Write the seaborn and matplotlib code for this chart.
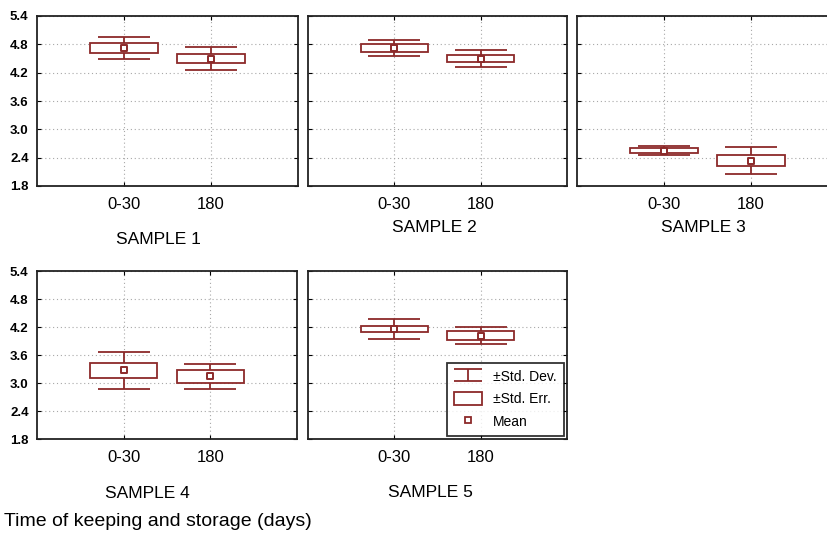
import pandas as pd
import matplotlib.pyplot as plt
import seaborn as sns
from matplotlib.lines import Line2D
from matplotlib.patches import Patch
from matplotlib.path import Path

samples = ["SAMPLE 1", "SAMPLE 2", "SAMPLE 3", "SAMPLE 4", "SAMPLE 5"]
days = ["0-30", "180"]
mean_0_30 = [4.72, 4.72, 2.55, 3.27, 4.16]
mean_180 = [4.50, 4.50, 2.34, 3.14, 4.01]
se_0_30 = [0.11, 0.09, 0.045, 0.165, 0.07]
se_180 = [0.105, 0.07, 0.12, 0.13, 0.095]
sd_0_30 = [0.24, 0.17, 0.095, 0.40, 0.21]
sd_180 = [0.235, 0.18, 0.285, 0.27, 0.18]
y_ticks = [1.8, 2.4, 3.0, 3.6, 4.2, 4.8, 5.4]

RED = "#8c2a2a"

rows = []
for i, s in enumerate(samples):
    rows.append({"sample": s, "days": days[0], "mean": mean_0_30[i], "se": se_0_30[i], "sd": sd_0_30[i]})
    rows.append({"sample": s, "days": days[1], "mean": mean_180[i], "se": se_180[i], "sd": sd_180[i]})
df = pd.DataFrame(rows)


def draw_panel(data, **kws):
    ax = plt.gca()
    pos = data["days"].map({d: i for i, d in enumerate(days)})
    # SD whiskers, SE box, mean square
    ax.errorbar(pos, data["mean"], yerr=data["sd"], fmt="none", ecolor=RED,
                elinewidth=1.3, capsize=18.7, capthick=1.3, zorder=2)
    ax.bar(pos, 2 * data["se"], bottom=data["mean"] - data["se"], width=0.78,
           facecolor="white", edgecolor=RED, linewidth=1.3, zorder=3)
    sns.scatterplot(x=pos, y=data["mean"], marker="s", s=20, facecolor="white",
                    edgecolor=RED, linewidth=1.4, zorder=4, ax=ax)


sns.set_theme(style="ticks")
plt.rcParams["font.family"] = ["Liberation Sans", "DejaVu Sans"]
plt.rcParams.update({"text.color": "black", "axes.labelcolor": "black",
                     "xtick.labelcolor": "black", "ytick.labelcolor": "black"})

g = sns.FacetGrid(df, col="sample", col_wrap=3, sharex=False, sharey=False, height=2.5)
g.map_dataframe(draw_panel)
fig = g.fig
fig.set_size_inches(8.27, 5.35)

W, H = 827, 535
boxes = [(37, 16, 261, 170), (308, 16, 259, 170), (577, 16, 261, 170),
         (37, 271, 260, 168), (308, 271, 259, 168)]
label_pads = [14, 6, 6, 15, 14]
label_shift = [-9, -3, -4, -20, -7]   # px, sample label left of centre

for k, ax in enumerate(g.axes.flat):
    x0, y0, w, h = boxes[k]
    ax.set_position([x0 / W, (H - y0 - h) / H, w / W, h / H])
    ax.set_xlim(-1, 2)
    ax.set_ylim(1.8, 5.4)
    ax.set_xticks(range(len(days)))
    ax.set_xticklabels(days, fontsize=12)
    ax.set_yticks(y_ticks)
    ax.set_yticklabels([f"{t:.1f}" for t in y_ticks], fontsize=9.5, fontweight="bold")
    ax.grid(True, color="#a8a8a8", linestyle=(0, (1, 2.5)), linewidth=0.8)
    ax.set_axisbelow(True)
    ax.tick_params(direction="in", length=3, width=0.8, color="black",
                   top=True, right=True, pad=8)
    ax.tick_params(axis="y", pad=6, labelleft=(k in (0, 3)))
    for sp in ax.spines.values():
        sp.set_visible(True)
        sp.set_color("#222222")
        sp.set_linewidth(1.3)
    ax.set_title("")
    ax.set_ylabel("")
    ax.set_xlabel(samples[k], fontsize=12.5, labelpad=label_pads[k])
    ax.xaxis.label.set_x(0.5 + label_shift[k] / w)

# legend in the last panel
i_path = Path([(-1, 0.45), (1, 0.45), (0, 0.45), (0, -0.45), (-1, -0.45), (1, -0.45)],
              [Path.MOVETO, Path.LINETO, Path.MOVETO, Path.LINETO, Path.MOVETO, Path.LINETO])
handles = [
    Line2D([], [], marker=i_path, markersize=20, markeredgewidth=1.3,
           color=RED, linestyle="none"),
    Patch(facecolor="white", edgecolor=RED, linewidth=1.3),
    Line2D([], [], marker="s", markersize=5, markerfacecolor="white",
           markeredgecolor=RED, markeredgewidth=1.3, linestyle="none"),
]
leg = g.axes.flat[4].legend(handles, ["±Std. Dev.", "±Std. Err.", "Mean"],
                            loc="lower right", fontsize=10, frameon=True, fancybox=False,
                            handlelength=2.0, handleheight=1.0, labelspacing=0.6,
                            borderaxespad=0.25, borderpad=0.5, handletextpad=0.8)
leg.get_frame().set_edgecolor("black")
leg.get_frame().set_linewidth(1.3)

fig.text(4 / W, (H - 522) / H, "Time of keeping and storage (days)",
         fontsize=14, va="center", ha="left")

plt.savefig("out.png", dpi=100)
